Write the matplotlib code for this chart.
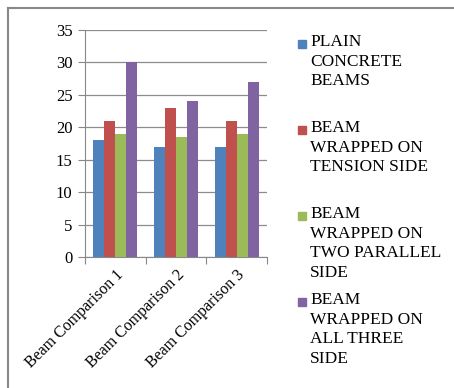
import matplotlib
matplotlib.use("Agg")
import matplotlib.pyplot as plt
from matplotlib.patches import Rectangle
import numpy as np

categories = ["Beam Comparison 1", "Beam Comparison 2", "Beam Comparison 3"]
series_names = ["PLAIN\nCONCRETE\nBEAMS",
                "BEAM\nWRAPPED ON\nTENSION SIDE",
                "BEAM\nWRAPPED ON\nTWO PARALLEL\nSIDE",
                "BEAM\nWRAPPED ON\nALL THREE\nSIDE"]
plain = [18, 17, 17]
tension = [21, 23, 21]
two_parallel = [19, 18.5, 19]
all_three = [30, 24, 27]
yticks = [0, 5, 10, 15, 20, 25, 30, 35]

colors = ["#4F81BD", "#C0504D", "#9BBB59", "#8064A2"]
serif = ["Liberation Serif", "DejaVu Serif"]

fig = plt.figure(figsize=(4.54, 3.88), dpi=100)
ax = fig.add_axes([85/454, 1-257/388, (267-85)/454, (257-30)/388])

x = np.arange(len(categories))
w = 0.18
data = [plain, tension, two_parallel, all_three]
for i, vals in enumerate(data):
    ax.bar(x + (i-1.5)*w, vals, w, color=colors[i], zorder=3)

ax.set_xlim(-0.5, 2.5)
ax.set_ylim(0, 35)
ax.set_yticks(yticks)
ax.set_yticklabels([str(t) for t in yticks], fontfamily=serif, fontsize=12)
ax.yaxis.grid(True, color="#8c8c8c", linewidth=0.9, zorder=0)
ax.set_xticks([-0.5, 0.5, 1.5, 2.5])
ax.set_xticklabels([])
ax.set_xticks(x, minor=True)
ax.set_xticklabels(categories, minor=True, rotation=45, ha="right", va="top",
                   rotation_mode="anchor", fontfamily=serif, fontsize=11.5)
ax.tick_params(axis="x", which="minor", length=0, pad=7)
ax.tick_params(axis="x", which="major", length=5, color="#888888", direction="out")
ax.tick_params(axis="y", length=5, color="#888888", pad=4)
for s in ["top", "right"]:
    ax.spines[s].set_visible(False)
for s in ["left", "bottom"]:
    ax.spines[s].set_color("#888888")

# legend (manual, marker aligned with first line)
entry_tops = [44, 130, 216, 302]
for name, col, yt in zip(series_names, colors, entry_tops):
    fig.patches.append(Rectangle((298/454, 1-(yt+4)/388), 8/454, 8/388,
                                 transform=fig.transFigure, color=col))
    fig.text(310/454, 1-(yt-10)/388, name, va="top", ha="left",
             fontfamily=serif, fontsize=12.5, linespacing=1.3)

# chart frame
fig.add_artist(plt.Line2D([8/454, 8/454], [0, 1-8/388], transform=fig.transFigure,
                          color="#888888", linewidth=1.5))
fig.add_artist(plt.Line2D([8/454, 1], [1-8/388, 1-8/388], transform=fig.transFigure,
                          color="#888888", linewidth=1.5))

fig.savefig("out.png", dpi=100)
